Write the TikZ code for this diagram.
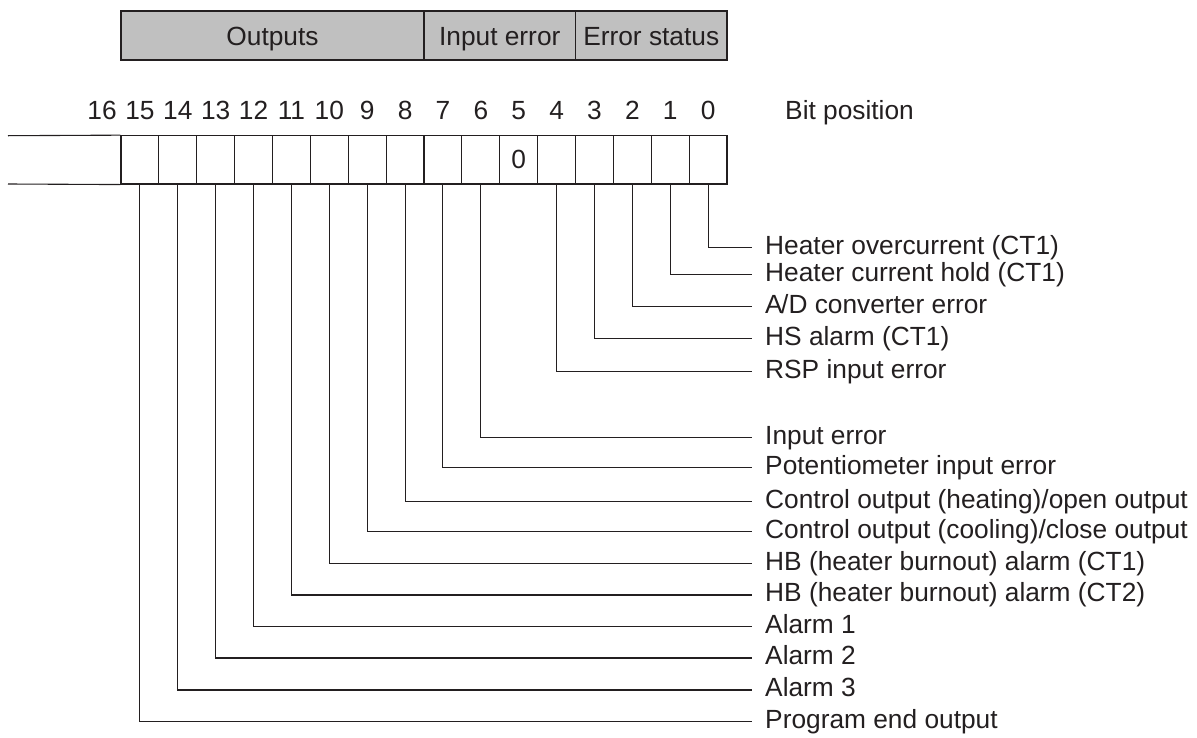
\documentclass[tikz,border=0pt]{standalone}
\usepackage{fontspec}
\setmainfont{Liberation Sans}
\definecolor{hdrgray}{RGB}{192,192,192}
\definecolor{ink}{RGB}{35,31,32}
\begin{document}
\begin{tikzpicture}[x=1pt,y=-1pt,
  every node/.style={font=\fontsize{26.3}{30}\selectfont, text=ink},
  ln/.style={draw=ink, line width=1.1pt},
  hdr/.style={ln, fill=hdrgray, inner sep=0pt, minimum height=49pt, text height=19pt, text depth=0pt},
  cell/.style={ln, inner sep=0pt, minimum width=37.875pt, minimum height=48.3pt, text height=19pt, text depth=0pt},
  bitnum/.style={inner sep=0pt, text height=19pt, text depth=0pt},
  lbl/.style={anchor=west, inner sep=0pt, text height=13.4pt, text depth=0pt}
]
\useasboundingbox (0,0) rectangle (1197,737);
% header
\node[hdr, minimum width=303pt] (hOut) at (272.5,35.5) {Outputs};
\node[hdr, minimum width=151.5pt] (hIn) at (499.75,35.5) {Input error};
\node[hdr, minimum width=151.5pt] (hErr) at (651.25,35.5) {Error status};
% bit cells and numbers
\foreach \k in {0,...,15}{
  \pgfmathsetmacro{\cx}{727-(\k+0.5)*37.875}
  \node[cell] (c\k) at (\cx,159.85) {};
  \node[bitnum] (n\k) at (\cx,110) {\k};
}
\node[bitnum] (n16) at (102.06,110) {16};
\node at (c5) {0};
\node[bitnum, anchor=west] (bp) at (785,110) {Bit position};
% open field for bit 16
\coordinate (lt) at (8,135.7);
\coordinate (lb) at (8,184);
\draw[ln] (lt) -- (c15.north west);
\draw[ln] (lb) -- (c15.south west);
% labels and leaders
\foreach \k/\y/\t in {
  0/247.7/{Heater overcurrent (CT1)},
  1/274.3/{Heater current hold (CT1)},
  2/306.7/{A\kern-0.06em/D converter error},
  3/338.7/{HS alarm (CT1)},
  4/371.7/{RSP input error},
  6/437.5/{Input error},
  7/467.5/{Potentiometer input error},
  8/501.5/{Control output (heating)/open output},
  9/531.7/{Control output (cooling)/close output},
  10/563.3/{HB (heater burnout) alarm (CT1)},
  11/595/{HB (heater burnout) alarm (CT2)},
  12/626.7/{Alarm 1},
  13/658/{Alarm 2},
  14/690/{Alarm 3},
  15/721.7/{Program end output}}{
  \node[lbl] (l\k) at (765,\y) {\t};
  \draw[ln] (c\k.south) |- ([xshift=-12.7pt]l\k.west);
}
\end{tikzpicture}
\end{document}
